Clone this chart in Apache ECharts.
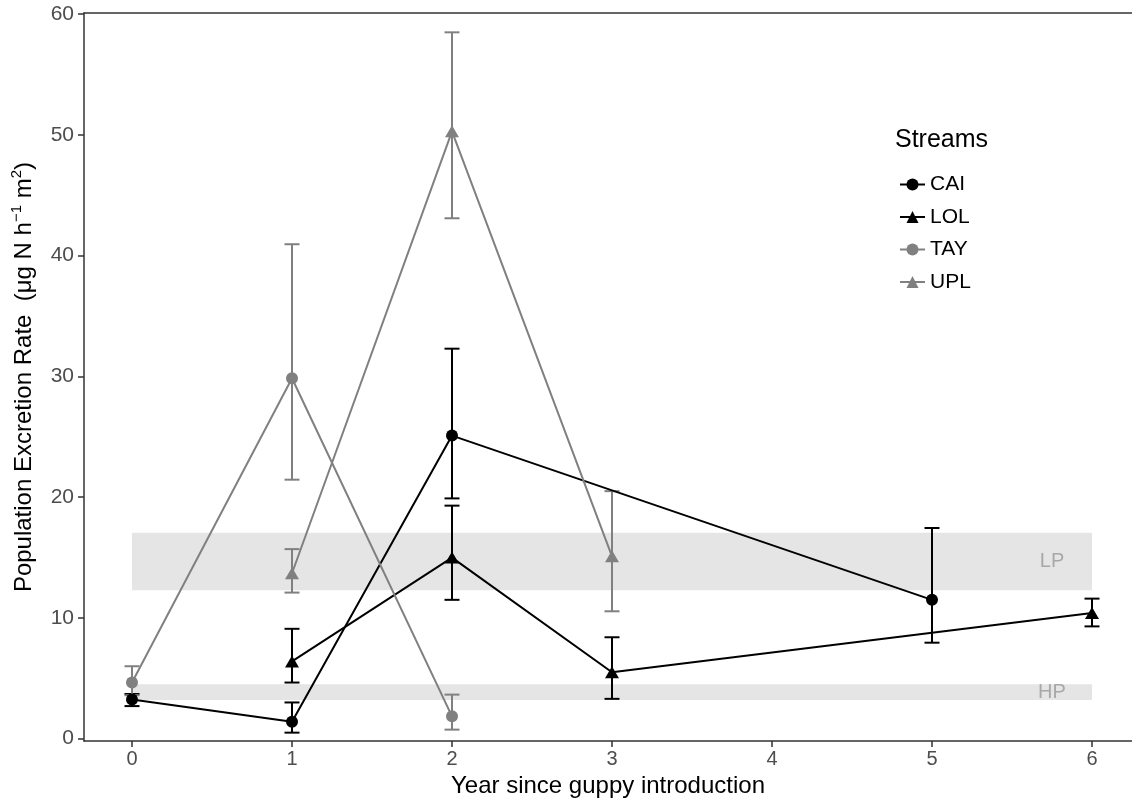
<!DOCTYPE html>
<html>
<head>
<meta charset="utf-8">
<script src="https://cdn.jsdelivr.net/npm/echarts@6/dist/echarts.min.js"></script>
<style>
  html, body { margin: 0; padding: 0; background: #fff; }
  #main { width: 1132px; height: 803px; }
</style>
</head>
<body>
<div id="main"></div>
<script>
// values: mean with lower / upper error bar ends
var caiYears = [0, 1, 2, 5];
var caiMean = [3.25, 1.4, 25.1, 11.5];
var caiLow = [2.7, 0.5, 19.9, 7.95];
var caiHigh = [3.7, 3.0, 32.3, 17.45];

var lolYears = [1, 2, 3, 6];
var lolMean = [6.4, 15.0, 5.5, 10.4];
var lolLow = [4.65, 11.5, 3.3, 9.3];
var lolHigh = [9.1, 19.3, 8.4, 11.6];

var tayYears = [0, 1, 2];
var tayMean = [4.65, 29.85, 1.85];
var tayLow = [3.6, 21.45, 0.75];
var tayHigh = [6.0, 40.95, 3.65];

var uplYears = [1, 2, 3];
var uplMean = [13.7, 50.3, 15.1];
var uplLow = [12.1, 43.1, 10.55];
var uplHigh = [15.7, 58.5, 20.5];

// shaded reference bands (low / high predation)
var bandNames = ['LP', 'HP'];
var bandLow = [12.3, 3.2];
var bandHigh = [17.05, 4.5];
var bandFrom = 0;
var bandTo = 6;
var bandLabelX = 5.75;

var xTicks = [0, 1, 2, 3, 4, 5, 6];
var yTicks = [0, 10, 20, 30, 40, 50, 60];

var FONT = "'Liberation Sans', Arial, sans-serif";
var BLACK = '#000000';
var GREY = '#808080';

function pairs(xs, ys) {
  return xs.map(function (x, i) { return [x, ys[i]]; });
}
function bars(xs, lo, hi) {
  return xs.map(function (x, i) { return [x, lo[i], hi[i]]; });
}

// error bars with caps
function errorBarSeries(name, data, color) {
  return {
    name: name + ' err',
    type: 'custom',
    data: data,
    z: 3,
    silent: true,
    renderItem: function (params, api) {
      var x = api.value(0);
      var lo = api.coord([x, api.value(1)]);
      var hi = api.coord([x, api.value(2)]);
      var w = 7.5;
      var st = { stroke: color, lineWidth: 2 };
      return {
        type: 'group',
        children: [
          { type: 'line', shape: { x1: lo[0], y1: lo[1], x2: hi[0], y2: hi[1] }, style: st },
          { type: 'line', shape: { x1: lo[0] - w, y1: lo[1], x2: lo[0] + w, y2: lo[1] }, style: st },
          { type: 'line', shape: { x1: hi[0] - w, y1: hi[1], x2: hi[0] + w, y2: hi[1] }, style: st }
        ]
      };
    }
  };
}

function lineSeries(name, data, color, symbol) {
  return {
    name: name,
    type: 'line',
    data: data,
    z: 4,
    color: color,
    symbol: symbol,
    symbolSize: symbol === 'triangle' ? [14, 12] : 12,
    showSymbol: true,
    lineStyle: { color: color, width: 2 },
    itemStyle: { color: color, borderWidth: 0 },
    emphasis: { disabled: true },
    animation: false
  };
}

var bandData = bandNames.map(function (n, i) {
  return [bandFrom, bandTo, bandLow[i], bandHigh[i]];
});
var bandLabelData = bandNames.map(function (n, i) {
  return { name: n, value: [bandLabelX, (bandLow[i] + bandHigh[i]) / 2] };
});

var chart = echarts.init(document.getElementById('main'), null, { renderer: 'canvas' });

chart.setOption({
  animation: false,
  backgroundColor: '#ffffff',
  textStyle: { fontFamily: FONT },
  title: {
    text: 'Streams',
    left: 890,
    top: 123,
    textStyle: { fontFamily: FONT, fontSize: 25, fontWeight: 'normal', color: '#000' }
  },
  legend: {
    data: ['CAI', 'LOL', 'TAY', 'UPL'],
    orient: 'vertical',
    left: 894,
    top: 169,
    itemWidth: 25,
    itemHeight: 15,
    itemGap: 11.5,
    selectedMode: false,
    textStyle: { fontFamily: FONT, fontSize: 21, color: '#000' }
  },
  grid: { left: 84, right: 0, top: 13, bottom: 61, containLabel: false },
  xAxis: [{
    type: 'value',
    min: -0.3,
    max: 6.25,
    name: 'Year since guppy introduction',
    nameLocation: 'middle',
    nameGap: 31,
    nameTextStyle: { fontFamily: FONT, fontSize: 24, color: '#000', padding: [0, 0, 0, 0] },
    axisLine: { show: true, onZero: false, lineStyle: { color: '#333', width: 1.5 } },
    axisTick: { show: true, length: 6, customValues: xTicks, lineStyle: { color: '#333', width: 1.5 } },
    axisLabel: { customValues: xTicks, margin: 8, fontFamily: FONT, fontSize: 20, color: '#4d4d4d' },
    splitLine: { show: false }
  }, {
    type: 'value',
    position: 'top',
    min: -0.3,
    max: 6.25,
    axisLine: { show: true, onZero: false, lineStyle: { color: '#333', width: 1.5 } },
    axisTick: { show: false },
    axisLabel: { show: false },
    splitLine: { show: false }
  }],
  yAxis: {
    type: 'value',
    min: -0.2,
    max: 60.1,
    name: 'Population Excretion Rate  (μg N h{s|−1} m{s|2})',
    nameLocation: 'middle',
    nameRotate: 90,
    nameGap: 42,
    nameTextStyle: {
      fontFamily: FONT, fontSize: 24, color: '#000', lineHeight: 30,
      rich: {
        s: { fontFamily: FONT, fontSize: 15, color: '#000', verticalAlign: 'top', lineHeight: 16 }
      }
    },
    axisLine: { show: true, onZero: false, lineStyle: { color: '#333', width: 1.5 } },
    axisTick: { show: true, length: 6, customValues: yTicks, lineStyle: { color: '#333', width: 1.5 } },
    axisLabel: { customValues: yTicks, margin: 10, fontFamily: FONT, fontSize: 21, color: '#4d4d4d' },
    splitLine: { show: false }
  },
  series: [
    {
      name: 'bands',
      type: 'custom',
      data: bandData,
      z: 1,
      silent: true,
      renderItem: function (params, api) {
        var p0 = api.coord([api.value(0), api.value(3)]);
        var p1 = api.coord([api.value(1), api.value(2)]);
        return {
          type: 'rect',
          shape: { x: p0[0], y: p0[1], width: p1[0] - p0[0], height: p1[1] - p0[1] },
          style: { fill: '#e5e5e5' }
        };
      }
    },
    {
      name: 'bandLabels',
      type: 'scatter',
      data: bandLabelData,
      symbolSize: 0,
      z: 2,
      silent: true,
      label: {
        show: true,
        position: 'inside',
        formatter: '{b}',
        fontFamily: FONT,
        fontSize: 20,
        color: '#999999'
      }
    },
    lineSeries('CAI', pairs(caiYears, caiMean), BLACK, 'circle'),
    lineSeries('LOL', pairs(lolYears, lolMean), BLACK, 'triangle'),
    lineSeries('TAY', pairs(tayYears, tayMean), GREY, 'circle'),
    lineSeries('UPL', pairs(uplYears, uplMean), GREY, 'triangle'),
    errorBarSeries('CAI', bars(caiYears, caiLow, caiHigh), BLACK),
    errorBarSeries('LOL', bars(lolYears, lolLow, lolHigh), BLACK),
    errorBarSeries('TAY', bars(tayYears, tayLow, tayHigh), GREY),
    errorBarSeries('UPL', bars(uplYears, uplLow, uplHigh), GREY)
  ]
});
</script>
</body>
</html>
